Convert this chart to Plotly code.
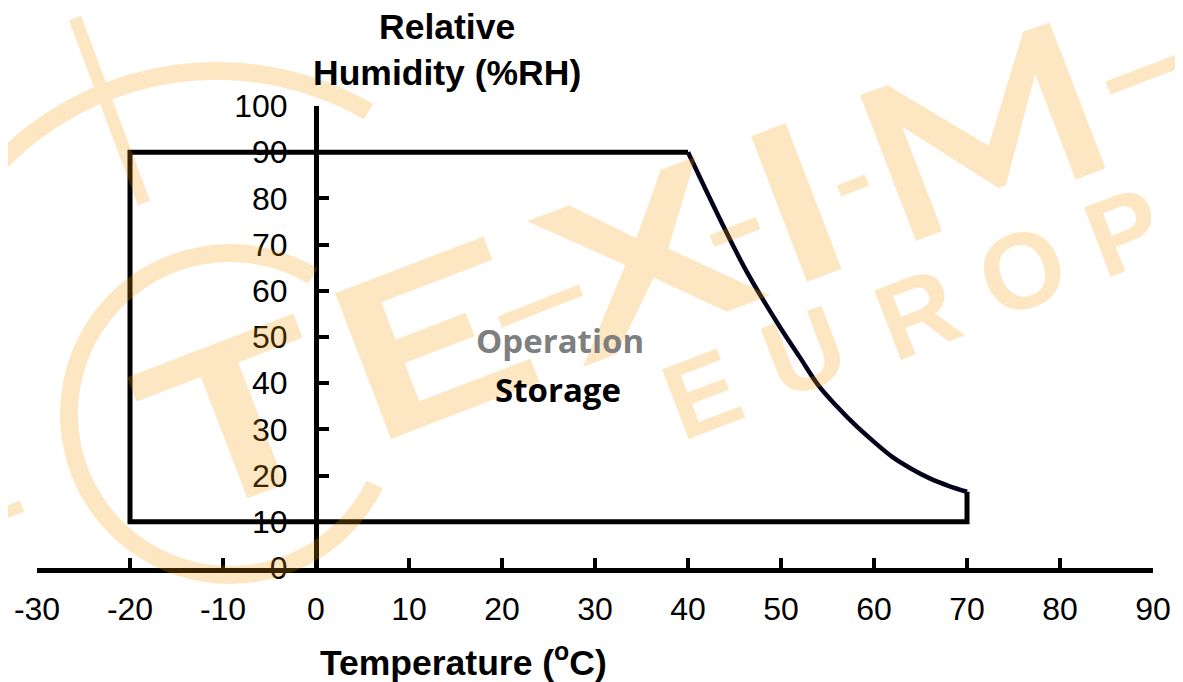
import math
import plotly.graph_objects as go

# ---------------- data ----------------
box_temp = [70, 70, -20, -20, 40]
box_rh = [16.5, 10, 10, 90, 90]
curve_temp = [40, 42, 44, 46, 48, 50, 52, 54, 56, 58, 60, 62, 64, 66, 68, 70]
curve_rh = [90, 81.5, 73.2, 65.3, 58.3, 51.8, 45.7, 39.6, 35.0, 30.9, 27.3, 24.0, 21.5, 19.4, 17.8, 16.5]
x_ticks = [-30, -20, -10, 0, 10, 20, 30, 40, 50, 60, 70, 80, 90]
y_ticks = [0, 10, 20, 30, 40, 50, 60, 70, 80, 90, 100]
area_labels = ["Operation", "Storage"]
area_label_temp = [26.2, 26.0]
area_label_rh = [49.3, 38.7]
y_title = "Relative<br>Humidity (%RH)"
x_title = "Temperature (<sup>o</sup>C)"

# ---------------- geometry ----------------
# the page body has an 8px margin, so the figure is drawn from (8, 8)
OFF = 8
W, H = 1183 - OFF, 682 - OFF
ML, MR, MT, MB = 37 - OFF, 30, 106 - OFF, 114
PW = W - ML - MR
PH = H - MT - MB


def to_paper(px, py):
    """reference-screenshot pixel -> paper coordinates"""
    fx, fy = px - OFF, py - OFF
    return (fx - ML) / PW, (H - MB - fy) / PH


fig = go.Figure()
fig.add_trace(go.Scatter(x=box_temp, y=box_rh, mode="lines",
                         line=dict(color="black", width=5), hoverinfo="skip",
                         showlegend=False))
fig.add_trace(go.Scatter(x=curve_temp, y=curve_rh, mode="lines",
                         line=dict(color="#03031c", width=4.5, shape="spline"),
                         hoverinfo="skip", showlegend=False))

# ---------------- watermark (decoration) ----------------
WM = "rgba(247,153,0,0.235)"
ang = math.radians(21)
U = (math.cos(ang), -math.sin(ang))
V = (-math.sin(ang), -math.cos(ang))


def place(origin, pts):
    ox, oy = origin
    return [(ox + u * U[0] + v * V[0], oy + u * U[1] + v * V[1]) for u, v in pts]


def bar(p0, p1, th):
    (x0, y0), (x1, y1) = p0, p1
    L = math.hypot(x1 - x0, y1 - y0)
    nx, ny = -(y1 - y0) / L * th / 2, (x1 - x0) / L * th / 2
    return [(x0 + nx, y0 + ny), (x1 + nx, y1 + ny), (x1 - nx, y1 - ny), (x0 - nx, y0 - ny)]


def ring(c, rin, rout, a0, a1, n=60):
    cx, cy = c
    outer = [(cx + rout * math.cos(math.radians(a0 + (a1 - a0) * i / n)),
              cy + rout * math.sin(math.radians(a0 + (a1 - a0) * i / n))) for i in range(n + 1)]
    inner = [(cx + rin * math.cos(math.radians(a0 + (a1 - a0) * i / n)),
              cy + rin * math.sin(math.radians(a0 + (a1 - a0) * i / n))) for i in range(n + 1)]
    return outer + inner[::-1]


polys = [
    place((183, 523), [(0, 156), (178, 156), (178, 130), (109, 130), (109, 0), (69, 0), (69, 130), (0, 130)]),
    place((391, 439), [(0, 0), (159, 0), (159, 25), (40, 25), (40, 66), (115, 66), (115, 91), (40, 91),
                       (40, 131), (159, 131), (159, 156), (0, 156)]),
    place((583, 367), [(0, 0), (36, 0), (98, 58), (154, 0), (200, 0), (122, 80), (181, 156), (143, 156),
                       (96, 101), (45, 156), (0, 156), (76, 80)]),
    place((807, 282), [(0, 0), (37, 0), (37, 156), (0, 156)]),
    place((916, 241), [(0, 0), (28, 0), (28, 112), (96, 20), (104, 20), (171, 113), (171, 0), (203, 0),
                       (203, 156), (175, 157), (102, 63), (29, 156), (0, 156)]),
    bar((-30, 527), (22, 506), 12),
    bar((500, 322), (581, 290), 12),
    bar((712, 241), (758, 223), 13),
    bar((839, 191), (867, 180), 12),
    bar((1108, 88), (1200, 53), 14),
    bar((75, 18), (144, 203), 13),
    ring((217, 374), 294, 312, -160, -60),
    ring((230, 414), 152, 170, 26, 301),
]


def area(p):
    return sum(p[i][0] * p[(i + 1) % len(p)][1] - p[(i + 1) % len(p)][0] * p[i][1] for i in range(len(p))) / 2


path = ""
for p in polys:
    if area(p) < 0:
        p = p[::-1]
    pts = [to_paper(x, y) for x, y in p]
    path += "M" + " L".join(f"{x:.5f},{y:.5f}" for x, y in pts) + " Z "

fig.add_shape(type="path", path=path.strip(), xref="paper", yref="paper",
              fillcolor=WM, line=dict(width=0), layer="above", fillrule="nonzero")

for ch, (px, py) in zip("EUROP", [(702, 393), (804, 351), (917, 313), (1022, 270), (1124, 231)]):
    xp, yp = to_paper(px, py)
    fig.add_annotation(x=xp, y=yp, xref="paper", yref="paper", text=ch, showarrow=False,
                       textangle=-21, xanchor="center", yanchor="middle",
                       font=dict(family="Liberation Sans", size=108,
                                 color=WM, weight="bold"))

# ---------------- labels ----------------
for txt, tx, ty, col in zip(area_labels, area_label_temp, area_label_rh, ["#7f7f7f", "black"]):
    fig.add_annotation(x=tx, y=ty, xref="x", yref="y", text=txt, showarrow=False,
                       xanchor="center", yanchor="middle",
                       font=dict(family="Open Sans", size=33, color=col, weight="bold"))

xp, yp = to_paper(447, 50)
fig.add_annotation(x=xp, y=yp, xref="paper", yref="paper", text=y_title, showarrow=False,
                   xanchor="center", yanchor="middle",
                   font=dict(family="Liberation Sans", size=35.5, color="black", weight="bold"))
xp, yp = to_paper(463, 660)
fig.add_annotation(x=xp, y=yp, xref="paper", yref="paper", text=x_title, showarrow=False,
                   xanchor="center", yanchor="middle",
                   font=dict(family="Liberation Sans", size=35.5, color="black", weight="bold"))

fig.update_layout(
    width=W, height=H,
    margin=dict(l=ML, r=MR, t=MT, b=MB, pad=0, autoexpand=False),
    paper_bgcolor="white", plot_bgcolor="white",
    showlegend=False,
    xaxis=dict(range=[x_ticks[0], x_ticks[-1]], tickvals=x_ticks, ticktext=[str(v) for v in x_ticks],
               automargin=False,
               showgrid=False, zeroline=False, showline=True, linecolor="black", linewidth=5,
               ticks="inside", ticklen=10, tickwidth=4, tickcolor="black",
               ticklabelstandoff=9,
               tickfont=dict(family="Liberation Sans", size=32, color="black")),
    yaxis=dict(range=[y_ticks[0], y_ticks[-1]], tickvals=y_ticks, ticktext=[str(v) for v in y_ticks],
               anchor="free", position=0.25, side="left", automargin=False,
               showgrid=False, zeroline=False, showline=True, linecolor="black", linewidth=5,
               ticks="inside", ticklen=10, tickwidth=4, tickcolor="black",
               ticklabelstandoff=20,
               tickfont=dict(family="Liberation Sans", size=32, color="black")),
)

fig.write_html("out.html")
